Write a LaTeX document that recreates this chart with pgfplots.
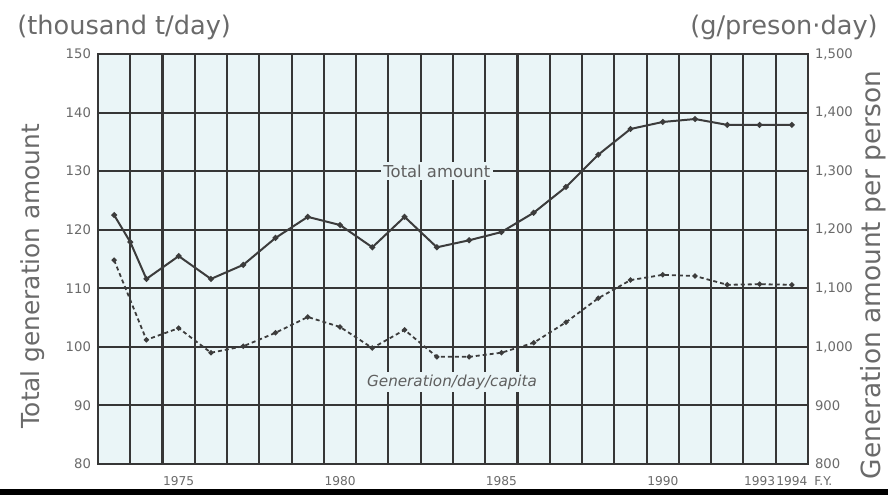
\documentclass[border=0pt]{standalone}
\usepackage{pgfplots}
\pgfplotsset{compat=1.18}
\usepackage{pgfplotstable}
\usepackage{fontspec}
\setmainfont{DejaVu Sans}
\definecolor{gridc}{HTML}{363636}
\definecolor{txt}{HTML}{6A6A6A}
\definecolor{bg}{HTML}{EAF5F7}
\definecolor{linec}{HTML}{3C3C3C}

\pgfplotstableread{
year total
1973 122.5
1973.5 117.9
1974 111.6
1975 115.5
1976 111.6
1977 114.0
1978 118.6
1979 122.2
1980 120.8
1981 117.0
1982 122.2
1983 117.0
1984 118.2
1985 119.6
1986 122.9
1987 127.3
1988 132.8
1989 137.2
1990 138.4
1991 138.9
1992 137.9
1993 137.9
1994 137.9
}\totaltable

\pgfplotstableread{
year percap
1973 1148
1974 1012
1975 1032
1976 990
1977 1001
1978 1024
1979 1051
1980 1034
1981 998
1982 1029
1983 983
1984 983
1985 990
1986 1007
1987 1042
1988 1083
1989 1114
1990 1123
1991 1121
1992 1106
1993 1107
1994 1106
}\capitatable

\begin{document}
\begin{tikzpicture}
\useasboundingbox (0,0) rectangle (444pt,247.5pt);
\fill[white] (0,0) rectangle (444pt,247.5pt);
\begin{axis}[
  at={(49pt,15.5pt)}, anchor=south west,
  scale only axis, width=355pt, height=205pt,
  xmin=1972.5, xmax=1994.5, ymin=80, ymax=150,
  xtick={1975,1980,1985,1990,1993,1994},
  xticklabels={1975,1980,1985,1990,1993,1994},
  minor xtick={1973.5,1974.5,...,1993.5},
  ytick={80,90,...,150},
  ymajorgrids, xminorgrids,
  major grid style={gridc, line width=1.05pt},
  minor grid style={gridc, line width=1.05pt},
  major tick length=0pt, minor tick length=0pt,
  axis line style={gridc, line width=1.15pt},
  axis background/.style={fill=bg},
  tick label style={font=\fontsize{6.6}{7.5}\selectfont, text=txt},
  xticklabel style={yshift=-2.5pt, font=\fontsize{6.1}{7}\selectfont},
  /pgf/number format/assume math mode=true,
]
\node[fill=bg, inner sep=1.2pt, font=\fontsize{8.2}{9}\selectfont, text=txt!90!black] at (axis cs:1983,130) {Total amount};
\node[fill=bg, inner sep=1.2pt, font=\itshape\fontsize{7.6}{9}\selectfont, text=txt!90!black] at (axis cs:1983.47,94) {Generation/day/capita};
\addplot[linec, line width=1pt, mark=*, mark size=0.9pt] table[x=year,y=total]{\totaltable};
\end{axis}
\begin{axis}[
  at={(49pt,15.5pt)}, anchor=south west,
  scale only axis, width=355pt, height=205pt,
  xmin=1972.5, xmax=1994.5, ymin=800, ymax=1500,
  axis x line=none, axis y line*=right,
  ytick={800,900,...,1500},
  major tick length=0pt, minor tick length=0pt,
  axis line style={gridc, line width=1.15pt},
  tick label style={font=\fontsize{6.6}{7.5}\selectfont, text=txt},
  /pgf/number format/assume math mode=true,
  /pgf/number format/1000 sep={,},
]
\addplot[linec, line width=0.9pt, dash pattern=on 2pt off 1.5pt, mark=*, mark size=0.8pt, mark options={solid}] table[x=year,y=percap]{\capitatable};
\end{axis}
\node[anchor=west, inner sep=0pt, font=\fontsize{6.1}{7}\selectfont, text=txt] at (407pt,6.8pt) {F.Y.};
\node[rotate=90, font=\fontsize{12.4}{14}\selectfont, text=txt] at (16.25pt,109.5pt) {Total generation amount};
\node[rotate=90, anchor=base, inner sep=0pt, font=\fontsize{13.2}{15}\selectfont, text=txt] at (440.3pt,110pt) {Generation amount per person};
\node[anchor=base west, inner sep=0pt, font=\fontsize{12.8}{14}\selectfont, text=txt] at (8.5pt,230.2pt) {(thousand t/day)};
\node[anchor=base east, inner sep=0pt, font=\fontsize{12.8}{14}\selectfont, text=txt] at (439pt,230.5pt) {(g/preson·day)};
\fill[black] (0,0) rectangle (444pt,3pt);
\end{tikzpicture}
\end{document}
